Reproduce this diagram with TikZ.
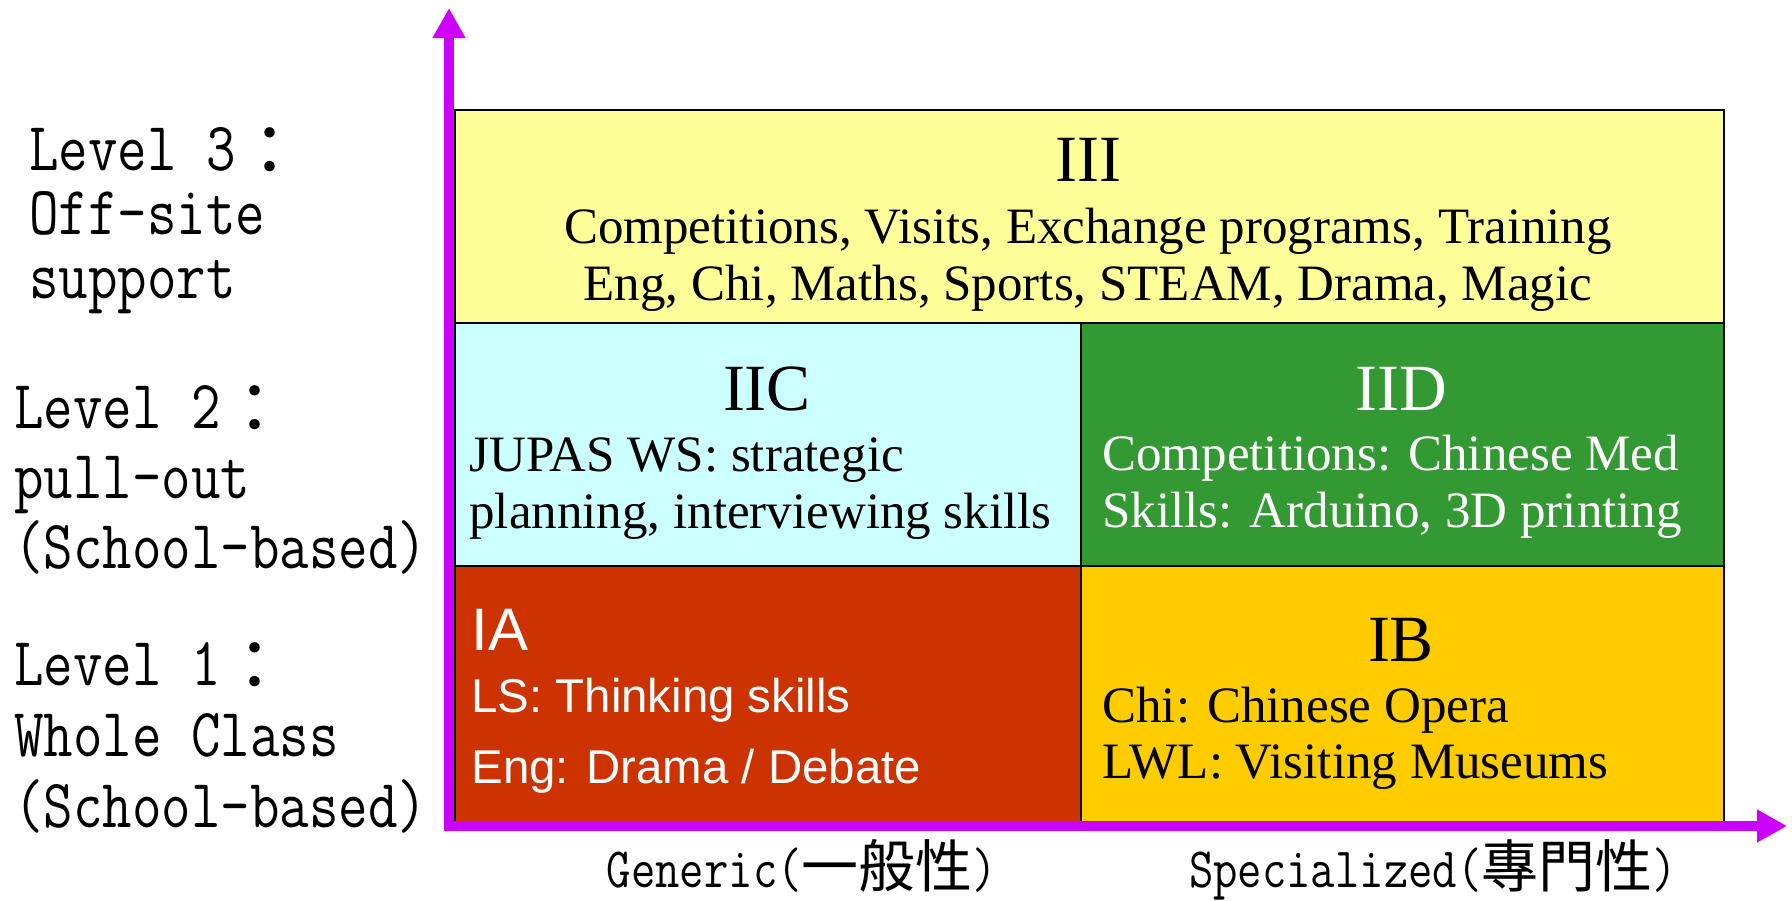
\documentclass[tikz,border=0pt]{standalone}
\usepackage{graphicx}
\usepackage{fontspec}
\setmainfont{Liberation Serif}
\newfontfamily\cjk{Noto Sans CJK TC}
\newfontfamily\iafont{Liberation Sans}
\usepackage{tikz}
\usetikzlibrary{positioning,arrows.meta}
\definecolor{lvthree}{HTML}{FFFF99}
\definecolor{lvtwoc}{HTML}{CCFFFF}
\definecolor{lvtwod}{HTML}{339933}
\definecolor{lvonea}{HTML}{CC3300}
\definecolor{lvoneb}{HTML}{FFCC00}
\definecolor{axiscol}{HTML}{CC00FF}
\newcommand{\lvltext}[1]{\scalebox{0.83}[1]{\ttfamily #1}}
\newcommand{\lvlcolon}{\raisebox{-2.5pt}{\cjk ：}}
\tikzset{cell/.style={draw,line width=0.8pt,anchor=north west,inner sep=0pt},
         title/.style={anchor=base,inner sep=0pt,font=\fontsize{33}{36}\selectfont},
         body/.style={anchor=base west,align=left,inner sep=0pt,font=\fontsize{25.5}{28.5}\selectfont},
         level/.style={anchor=base west,align=left,inner sep=0pt},
         axis/.style={line width=5pt,draw=axiscol,-{Triangle[length=15pt,width=15.5pt]}},}

\begin{document}
\begin{tikzpicture}[x=0.5pt,y=-0.5pt]
        \useasboundingbox (0,0) rectangle (1792,900);
        % Cells
        \node[cell,fill=lvthree,minimum width=634.5pt,minimum height=106.5pt] (c3) at (454,109) {};
        \node[cell,fill=lvtwoc,minimum width=313pt,minimum height=121.5pt] (c2c) at (454,322) {};
        \node[cell,fill=lvtwod,minimum width=321.5pt,minimum height=121.5pt] (c2d) at (1080,322) {};
        \node[cell,fill=lvonea,minimum width=313pt,minimum height=128pt] (c1a) at (454,565) {};
        \node[cell,fill=lvoneb,minimum width=321.5pt,minimum height=128pt] (c1b) at (1080,565) {};
        % Texts (base = last line)
        \node[title] (t3) at (1088,181) {III};
        \node[body,anchor=base,align=center] (b3) at (1088,300) {Competitions, Visits, Exchange programs, Training\\Eng, Chi, Maths, Sports, STEAM, Drama, Magic};
        \node[title] (t2c) at (767,410) {IIC};
        \node[body] (b2c) at (469,528) {JUPAS WS: strategic\\planning, interviewing skills};
        \node[title,text=white] (t2d) at (1401,410) {IID};
        \node[body,text=white] (b2d) at (1102,527) {Competitions: Chinese Med\\Skills: Arduino, 3D printing};
        \node[title,anchor=base west,text=white,font=\iafont\fontsize{30}{32}\selectfont] (t1a) at (471,650) {IA};
        \node[body,text=white,font=\iafont\fontsize{23.7}{35.5}\selectfont] (b1a) at (471,783) {LS: Thinking skills\\Eng: Drama / Debate};
        \node[title] (t1b) at (1401,661) {IB};
        \node[body,font=\fontsize{25.5}{28}\selectfont] (b1b) at (1102,778) {Chi: Chinese Opera\\LWL: Visiting Museums};
        % Levels
        \node[level,font=\fontsize{34.5}{32}\selectfont] (lv3) at (29,298) {\lvltext{Level 3}\lvlcolon\\\lvltext{Off-site}\\\lvltext{support}};
        \node[level,font=\fontsize{34.5}{35}\selectfont] (lv2) at (14,568) {\lvltext{Level 2}\lvlcolon\\\lvltext{pull-out}\\\lvltext{(School-based)}};
        \node[level,font=\fontsize{34.5}{35.5}\selectfont] (lv1) at (14,827) {\lvltext{Level 1}\lvlcolon\\\lvltext{Whole Class}\\\lvltext{(School-based)}};
        \node[anchor=base,inner sep=0pt,font=\fontsize{28.5}{30}\selectfont] (gen) at (802,887) {\lvltext{Generic(}{\cjk 一般性}\lvltext{)}};
        \node[anchor=base,inner sep=0pt,font=\fontsize{28.5}{30}\selectfont] (spe) at (1433,887) {\lvltext{Specialized(}{\cjk 專門性}\lvltext{)}};
        % Axes
        \coordinate (o) at (449,826);
        \coordinate (ytip) at (449,8);
        \coordinate (xtip) at (1787,826);
        \draw[axis] ([yshift=-2.5pt]o) -- (ytip);
        \draw[axis] ([xshift=-2.5pt]o) -- (xtip);
\end{tikzpicture}
\end{document}
